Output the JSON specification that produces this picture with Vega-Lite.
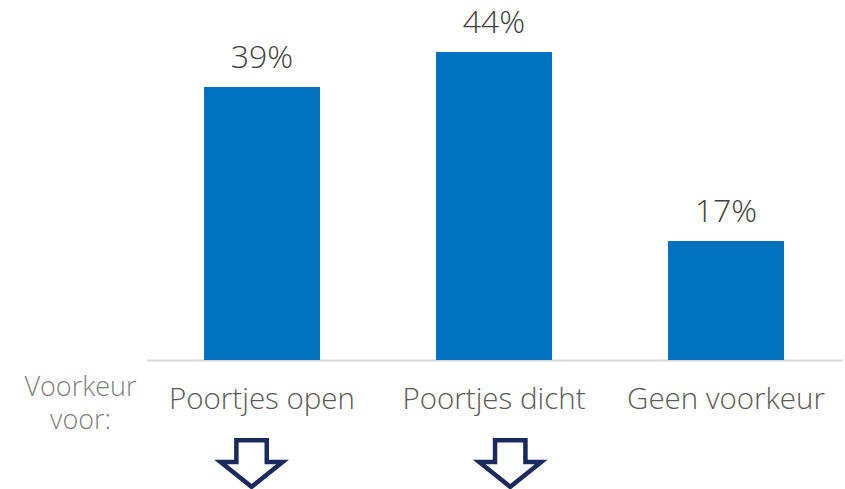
{
  "$schema": "https://vega.github.io/schema/vega-lite/v6.json",
  "width": 696,
  "height": 360,
  "autosize": {"type": "none"},
  "padding": {"left": 146, "right": 3, "top": 0, "bottom": 129},
  "background": "white",
  "config": {
    "view": {"stroke": null},
    "font": "Open Sans"
  },
  "data": {
    "values": [
      {"category": "Poortjes open", "value": 39},
      {"category": "Poortjes dicht", "value": 44},
      {"category": "Geen voorkeur", "value": 17}
    ]
  },
  "encoding": {
    "x": {
      "field": "category",
      "type": "nominal",
      "sort": null,
      "scale": {"paddingInner": 0.5, "paddingOuter": 0.25},
      "axis": {
        "title": null,
        "labelAngle": 0,
        "labelFont": "Open Sans",
        "labelFontSize": 29.5,
        "labelFontWeight": 300,
        "labelColor": "#595959",
        "labelBaseline": "alphabetic",
        "labelPadding": 48,
        "labelLimit": 400,
        "ticks": false,
        "domainColor": "#d9d9d9",
        "domainWidth": 2
      }
    },
    "y": {
      "field": "value",
      "type": "quantitative",
      "scale": {"domain": [0, 51.43], "nice": false},
      "axis": {
        "title": ["Voorkeur", "voor:"],
        "titleAngle": 0,
        "titleAlign": "center",
        "titleBaseline": "alphabetic",
        "titleX": -66,
        "titleY": 395,
        "titleFont": "Open Sans",
        "titleFontSize": 27,
        "titleFontWeight": 300,
        "titleColor": "#7f7f7f",
        "titleLineHeight": 33,
        "labels": false,
        "ticks": false,
        "domain": false,
        "grid": false
      }
    }
  },
  "layer": [
    {
      "mark": {"type": "bar", "color": "#0070C0"}
    },
    {
      "transform": [{"calculate": "datum.value + '%'", "as": "label"}],
      "mark": {
        "type": "text",
        "baseline": "alphabetic",
        "dy": -19,
        "fontSize": 32,
        "fontWeight": 300,
        "font": "Open Sans",
        "color": "#404040"
      },
      "encoding": {
        "text": {"field": "label", "type": "nominal"}
      }
    },
    {
      "transform": [{"filter": "datum.category === 'Poortjes open'"}],
      "mark": {
        "type": "point",
        "shape": "M-0.49,-0.75L0.49,-0.75L0.49,-0.05L1,-0.05L0,0.75L-1,-0.05L-0.49,-0.05Z",
        "filled": true,
        "fill": "white",
        "stroke": "#1B2A5E",
        "strokeWidth": 4.5,
        "opacity": 1,
        "size": 3844
      },
      "encoding": {
        "x": {"field": "category", "type": "nominal", "sort": null, "bandPosition": 0.41},
        "y": {"datum": -14.8}
      }
    },
    {
      "transform": [{"filter": "datum.category === 'Poortjes dicht'"}],
      "mark": {
        "type": "point",
        "shape": "M-0.49,-0.75L0.49,-0.75L0.49,-0.05L1,-0.05L0,0.75L-1,-0.05L-0.49,-0.05Z",
        "filled": true,
        "fill": "white",
        "stroke": "#1B2A5E",
        "strokeWidth": 4.5,
        "opacity": 1,
        "size": 3844
      },
      "encoding": {
        "x": {"field": "category", "type": "nominal", "sort": null, "bandPosition": 0.64},
        "y": {"datum": -14.8}
      }
    }
  ]
}
